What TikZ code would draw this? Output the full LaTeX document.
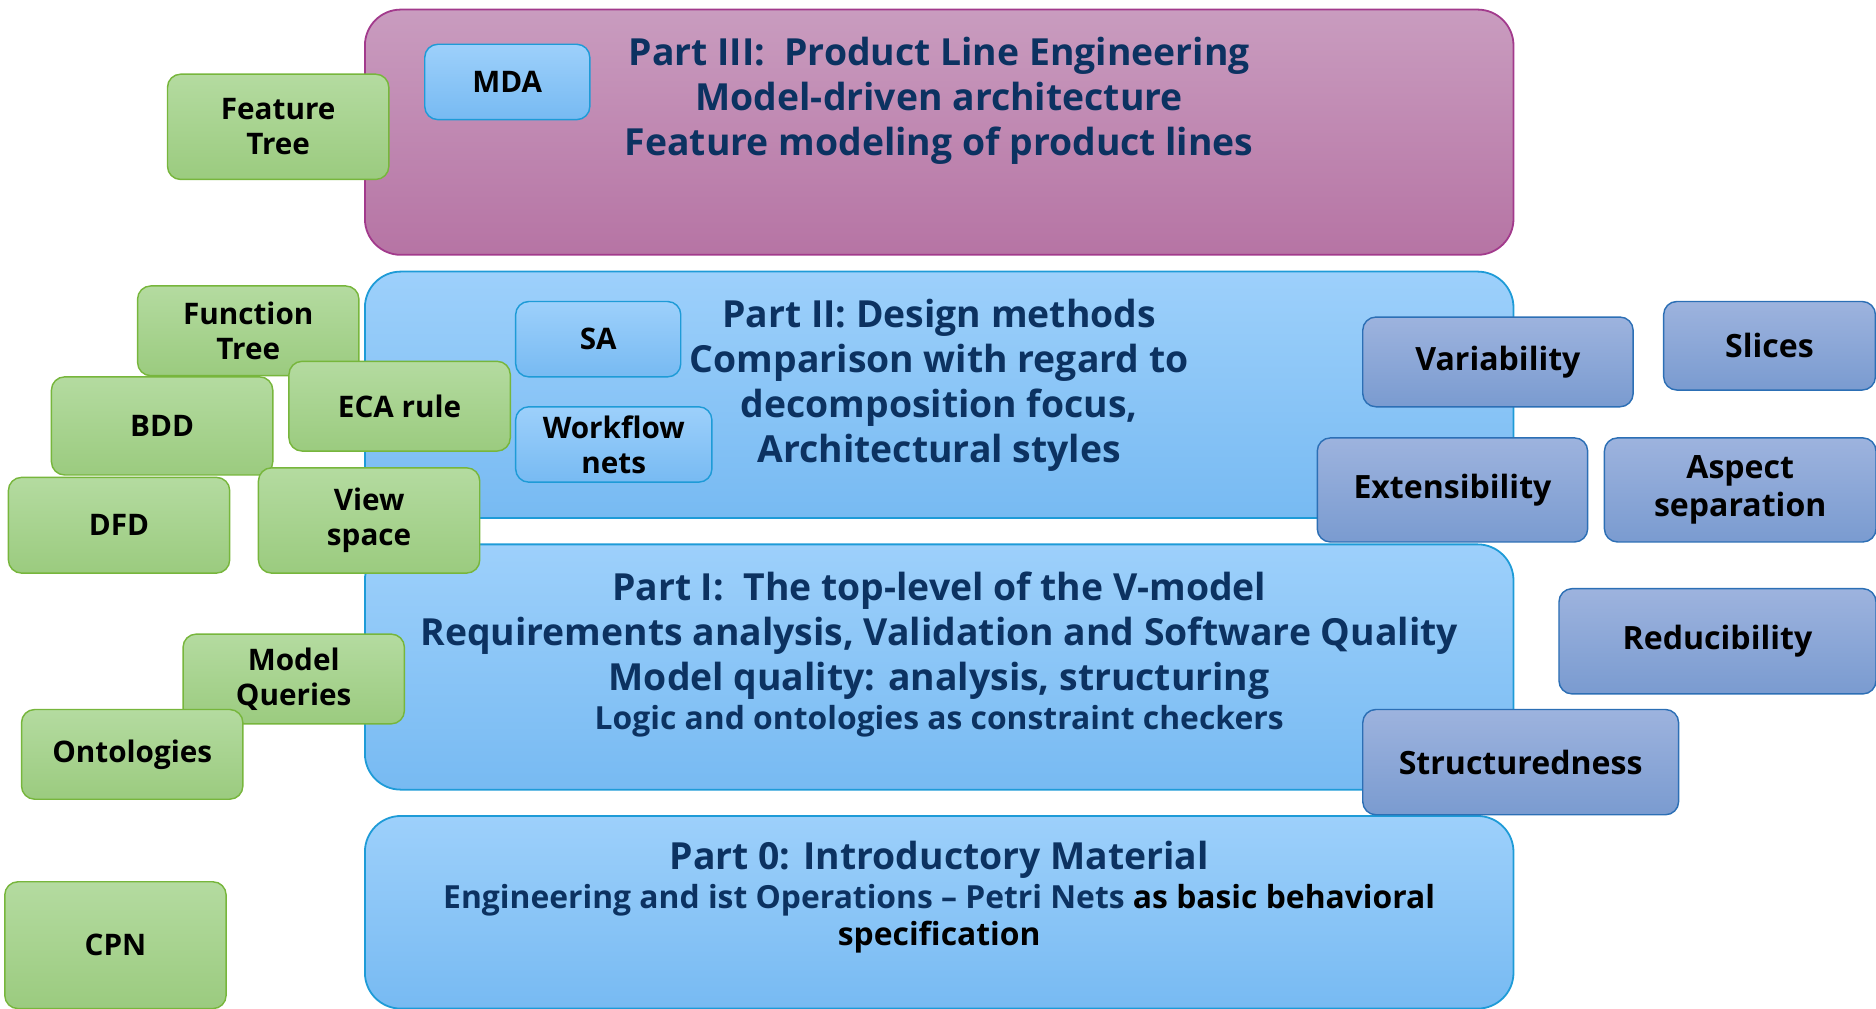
\documentclass[tikz,border=0pt]{standalone}
\usepackage{fontspec}
\setmainfont{Open Sans}
\usepackage{tikz}
\usetikzlibrary{positioning}

\definecolor{navy}{HTML}{0C3261}
\definecolor{plumtop}{HTML}{C99CBF}
\definecolor{plumbot}{HTML}{B674A4}
\definecolor{plumline}{HTML}{A23A8C}
\definecolor{skytop}{HTML}{9DD0FB}
\definecolor{skybot}{HTML}{77BAF2}
\definecolor{skyline}{HTML}{1E9BD7}
\definecolor{leaftop}{HTML}{B4DBA0}
\definecolor{leafbot}{HTML}{9BCB7F}
\definecolor{leafline}{HTML}{77B63C}
\definecolor{slatetop}{HTML}{9DB3DE}
\definecolor{slatebot}{HTML}{7A9BD0}
\definecolor{slateline}{HTML}{2C6FB5}

\begin{document}
\begin{tikzpicture}[
    x=1pt, y=-1pt,
    part/.style={rectangle, rounded corners=30pt, minimum width=960pt, line width=1.5pt, inner sep=0pt},
    partblue/.style={part, draw=skyline, top color=skytop, bottom color=skybot},
    partplum/.style={part, draw=plumline, top color=plumtop, bottom color=plumbot},
    title/.style={align=center, inner sep=0pt, text=navy, font=\fontsize{31.2}{37.5}\selectfont\bfseries},
    note/.style={align=center, inner sep=0pt, text=navy, font=\fontsize{26.6}{31}\selectfont\bfseries},
    box/.style={rectangle, rounded corners=11pt, line width=1.2pt, align=center, inner sep=0pt, font=\fontsize{24.8}{29}\selectfont\bfseries},
    leaf/.style={box, draw=leafline, top color=leaftop, bottom color=leafbot, minimum width=185pt},
    method/.style={box, draw=skyline, top color=skytop, bottom color=skybot, minimum height=63pt},
    quality/.style={box, draw=slateline, top color=slatetop, bottom color=slatebot, font=\fontsize{26.8}{32}\selectfont\bfseries},
]
\useasboundingbox (0,0) rectangle (1568,843);

% Parts
\node[partplum, minimum height=205pt] (partiii) at (785,110.5) {};
\node[partblue, minimum height=206pt, below=12.5pt of partiii] (partii) {};
\node[partblue, minimum height=205pt, below=20.5pt of partii] (parti) {};
\node[partblue, minimum height=161pt, below=20.5pt of parti] (partzero) {};

\node[title, anchor=north] (titleiii) at (785,31) {Part III:\ \ Product Line Engineering\\Model-driven architecture\\Feature modeling of product lines};
\node[title, anchor=north] (titleii) at (785,250) {Part II: Design methods\\Comparison with regard to\\decomposition focus,\\Architectural styles};
\node[title, anchor=north] (titlei) at (785,478) {Part I:\ \ The top-level of the V-model\\Requirements analysis, Validation and Software Quality\\Model quality: analysis, structuring};
\node[note, anchor=north] (notei) at (785,589) {Logic and ontologies as constraint checkers};
\node[title, anchor=north] (titlezero) at (785,703) {Part 0: Introductory Material};
\node[note, anchor=north] (notezero) at (785,739) {Engineering and ist Operations -- Petri Nets \textcolor{black}{as basic behavioral}\\\textcolor{black}{specification}};

% Quality criteria
\node[quality, minimum width=226pt, minimum height=75pt] (variab) at (1252,302.5) {Variability};
\node[quality, minimum width=177pt, minimum height=74pt] (slices) at (1479,289) {Slices};
\node[quality, minimum width=226pt, minimum height=87pt] (extens) at (1214,409.5) {Extensibility};
\node[quality, minimum width=227pt, minimum height=87pt] (aspect) at (1454.5,409.5) {Aspect\\separation};
\node[quality, minimum width=265pt, minimum height=88pt] (reduc) at (1435.5,536) {Reducibility};
\node[quality, minimum width=264pt, minimum height=88pt] (struct) at (1271,637) {Structuredness};

% Methods inside the parts
\node[method, minimum width=138pt] (mda) at (424,68.5) {MDA};
\node[method, minimum width=138pt] (sa) at (500,283.5) {SA};
\node[method, minimum width=164pt] (wfnets) at (513,371.5) {Workflow\\nets};

% Modelling techniques
\node[leaf, minimum height=88pt] (ftree) at (232.5,106) {Feature\\Tree};
\node[leaf, minimum height=75pt] (fntree) at (207.5,276.5) {Function\\Tree};
\node[leaf, minimum height=82pt] (bdd) at (135.5,356) {BDD};
\node[leaf, minimum height=75pt] (eca) at (334,339.5) {ECA rule};
\node[leaf, minimum height=80pt] (dfd) at (99.5,439) {DFD};
\node[leaf, minimum height=88pt] (view) at (308.5,435) {View\\space};
\node[leaf, minimum height=75pt] (queries) at (245.5,567.5) {Model\\Queries};
\node[leaf, minimum height=75pt] (onto) at (110.5,630.5) {Ontologies};
\node[leaf, minimum height=106pt] (cpn) at (96.5,790) {CPN};
\end{tikzpicture}
\end{document}
